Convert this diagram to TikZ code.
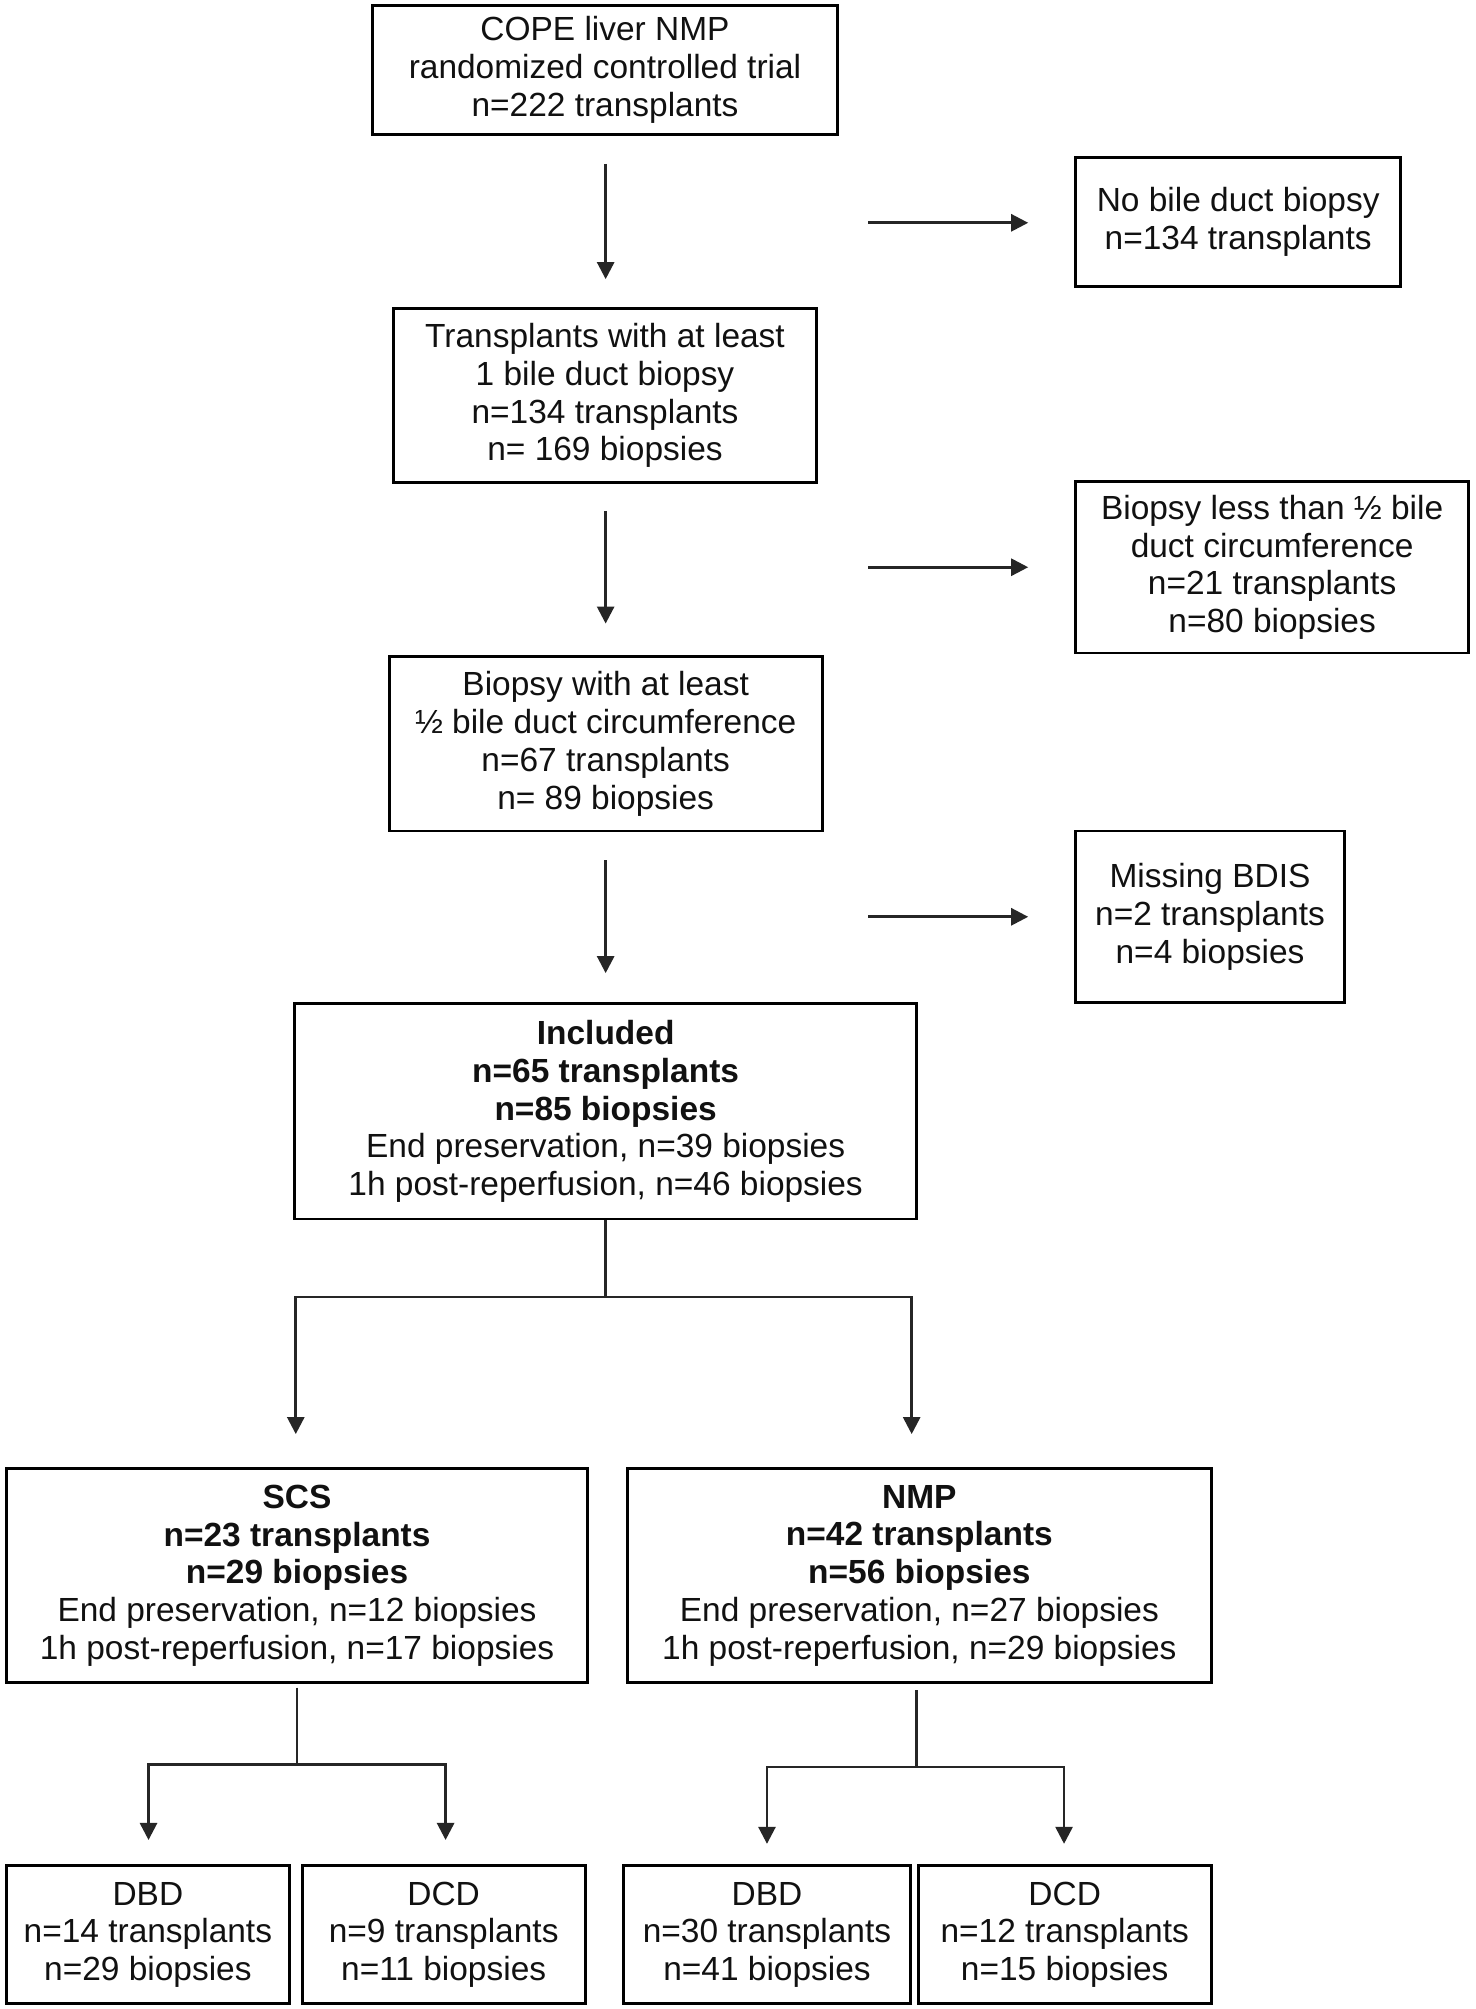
\documentclass[tikz,border=0pt]{standalone}
\usepackage{fontspec}
\setmainfont{Liberation Sans}
\usetikzlibrary{arrows.meta}
\definecolor{lncol}{HTML}{262626}
\definecolor{txcol}{HTML}{111111}
\begin{document}
\begin{tikzpicture}[x=0.75pt,y=-0.75pt,
  box/.style 2 args={draw=black, line width=1.7pt, minimum width=#1*0.75pt, minimum height=#2*0.75pt, inner sep=0pt, align=center, text=txcol, font=\fontsize{19.6pt}{22.1pt}\selectfont, execute at begin node={\rule{0pt}{18pt}}},
  arr/.style={draw=lncol, line width=1.6pt, line join=miter, -{Triangle[length=10pt,width=10pt]}},
  conn/.style={draw=lncol, line width=1.6pt}]
\useasboundingbox[fill=white] (0,0) rectangle (1152,1569);

\node[box={363}{101}] (b1) at (472.5,54.5) {COPE liver NMP\\randomized controlled trial\\n=222 transplants};
\node[box={254}{101}] (bno) at (967,173.5) {No bile duct biopsy\\n=134 transplants};
\node[box={331}{136}] (b2) at (472.5,309) {Transplants with at least\\1 bile duct biopsy\\n=134 transplants\\n= 169 biopsies};
\node[box={307}{134}] (bless) at (993.5,443) {Biopsy less than ½ bile\\duct circumference\\n=21 transplants\\n=80 biopsies};
\node[box={338}{136}] (b3) at (473,581) {Biopsy with at least\\½ bile duct circumference\\n=67 transplants\\n= 89 biopsies};
\node[box={210}{134}] (bmiss) at (945,716) {Missing BDIS\\n=2 transplants\\n=4 biopsies};
\node[box={486}{168}] (b4) at (473,868) {\textbf{Included}\\\textbf{n=65 transplants}\\\textbf{n=85 biopsies}\\End preservation, n=39 biopsies\\1h post-reperfusion, n=46 biopsies};
\node[box={454}{167}] (scs) at (232,1230.5) {\textbf{SCS}\\\textbf{n=23 transplants}\\\textbf{n=29 biopsies}\\End preservation, n=12 biopsies\\1h post-reperfusion, n=17 biopsies};
\node[box={456}{167}] (nmp) at (718,1230.5) {\textbf{NMP}\\\textbf{n=42 transplants}\\\textbf{n=56 biopsies}\\End preservation, n=27 biopsies\\1h post-reperfusion, n=29 biopsies};
\node[box={221}{108}] (dbd1) at (115.5,1511) {DBD\\n=14 transplants\\n=29 biopsies};
\node[box={221}{108}] (dcd1) at (346.5,1511) {DCD\\n=9 transplants\\n=11 biopsies};
\node[box={224}{108}] (dbd2) at (599,1511) {DBD\\n=30 transplants\\n=41 biopsies};
\node[box={229}{108}] (dcd2) at (831.5,1511) {DCD\\n=12 transplants\\n=15 biopsies};

% free arrow ends
\coordinate (a1s) at (473,128);  \coordinate (a1e) at (473,218);
\coordinate (r1s) at (678,174);  \coordinate (r1e) at (803,174);
\coordinate (a2s) at (473,399);  \coordinate (a2e) at (473,487);
\coordinate (r2s) at (678,443);  \coordinate (r2e) at (803,443);
\coordinate (a3s) at (473,672);  \coordinate (a3e) at (473,760);
\coordinate (r3s) at (678,716);  \coordinate (r3e) at (803,716);
\coordinate (j0) at (473,1013);
\coordinate (jl) at (231,1120); \coordinate (jr) at (712,1120);
\coordinate (s0) at (232,1318); \coordinate (s1) at (232,1378);
\coordinate (sl) at (116,1437); \coordinate (sr) at (348,1437);
\coordinate (n0) at (716,1320); \coordinate (n1) at (716,1380);
\coordinate (nl) at (599,1440); \coordinate (nr) at (831,1440);

\draw[arr] (a1s) -- (a1e);
\draw[arr] (r1s) -- (r1e);
\draw[arr] (a2s) -- (a2e);
\draw[arr] (r2s) -- (r2e);
\draw[arr] (a3s) -- (a3e);
\draw[arr] (r3s) -- (r3e);

\draw[conn] (b4.south) -- (j0);
\draw[arr] (j0) -| (jl);
\draw[arr] (j0) -| (jr);

\draw[conn] (s0) -- (s1);
\draw[arr] (s1) -| (sl);
\draw[arr] (s1) -| (sr);

\draw[conn] (n0) -- (n1);
\draw[arr] (n1) -| (nl);
\draw[arr] (n1) -| (nr);
\end{tikzpicture}
\end{document}
